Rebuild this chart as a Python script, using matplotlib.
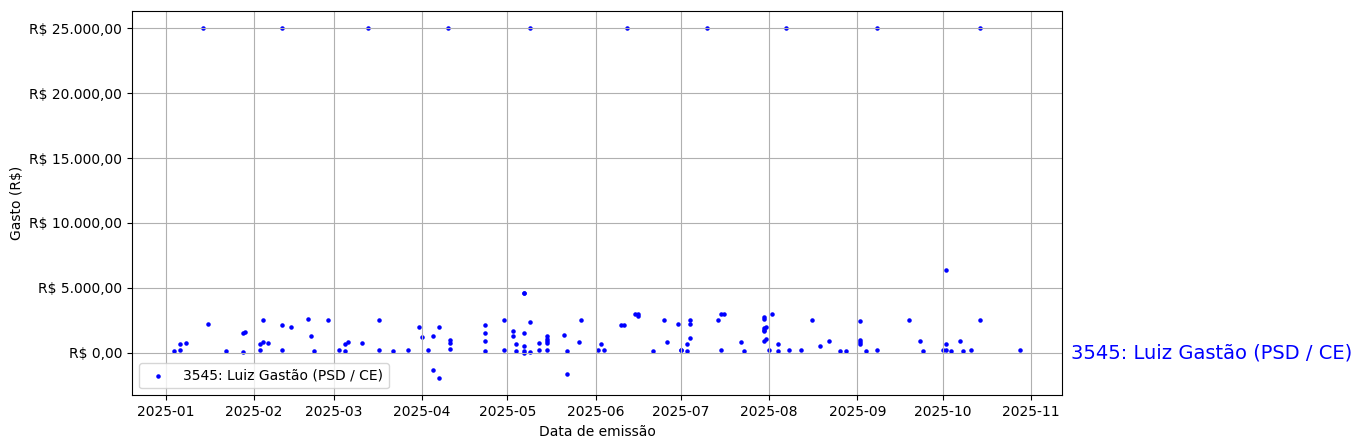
import matplotlib
matplotlib.use("Agg")
import matplotlib.pyplot as plt
import matplotlib.dates as mdates
import matplotlib.transforms as mtransforms
from matplotlib.ticker import FuncFormatter
import pandas as pd

deputado = "3545: Luiz Gastão (PSD / CE)"

datas = [
    "2025-01-04", "2025-01-06", "2025-01-06", "2025-01-08", "2025-01-14", "2025-01-16",
    "2025-01-22", "2025-01-28", "2025-01-28", "2025-01-29",
    "2025-02-03", "2025-02-03", "2025-02-04", "2025-02-04", "2025-02-06",
    "2025-02-11", "2025-02-11", "2025-02-11", "2025-02-14", "2025-02-20",
    "2025-02-21", "2025-02-22", "2025-02-27",
    "2025-03-03", "2025-03-05", "2025-03-05", "2025-03-06", "2025-03-11",
    "2025-03-13", "2025-03-17", "2025-03-17", "2025-03-22", "2025-03-27", "2025-03-31",
    "2025-04-01", "2025-04-03", "2025-04-05", "2025-04-05", "2025-04-07", "2025-04-07",
    "2025-04-10", "2025-04-11", "2025-04-11", "2025-04-11",
    "2025-04-23", "2025-04-23", "2025-04-23", "2025-04-23", "2025-04-30", "2025-04-30",
    "2025-05-03", "2025-05-03", "2025-05-04", "2025-05-04",
    "2025-05-07", "2025-05-07", "2025-05-07", "2025-05-07", "2025-05-07", "2025-05-07",
    "2025-05-09", "2025-05-09", "2025-05-09", "2025-05-12", "2025-05-12",
    "2025-05-15", "2025-05-15", "2025-05-15", "2025-05-15", "2025-05-15",
    "2025-05-21", "2025-05-22", "2025-05-22", "2025-05-26", "2025-05-27",
    "2025-06-02", "2025-06-03", "2025-06-04", "2025-06-10", "2025-06-11", "2025-06-12",
    "2025-06-15", "2025-06-16", "2025-06-16", "2025-06-21", "2025-06-25", "2025-06-26",
    "2025-06-30", "2025-07-01", "2025-07-01", "2025-07-03", "2025-07-03",
    "2025-07-04", "2025-07-04", "2025-07-04", "2025-07-10", "2025-07-14",
    "2025-07-15", "2025-07-15", "2025-07-16", "2025-07-22", "2025-07-23",
    "2025-07-30", "2025-07-30", "2025-07-30", "2025-07-30", "2025-07-30", "2025-07-30",
    "2025-07-31", "2025-07-31", "2025-08-01", "2025-08-02", "2025-08-04", "2025-08-04",
    "2025-08-07", "2025-08-08", "2025-08-12", "2025-08-16", "2025-08-19", "2025-08-22",
    "2025-08-26", "2025-08-28",
    "2025-09-02", "2025-09-02", "2025-09-02", "2025-09-02", "2025-09-04",
    "2025-09-08", "2025-09-08", "2025-09-19", "2025-09-23", "2025-09-24",
    "2025-10-01", "2025-10-02", "2025-10-02", "2025-10-02", "2025-10-04",
    "2025-10-07", "2025-10-08", "2025-10-11", "2025-10-14", "2025-10-14", "2025-10-28",
]

valores = [
    130, 200, 670, 770, 25000, 2230,
    130, 1540, 50, 1590,
    200, 670, 790, 2510, 770,
    200, 2130, 25000, 1970, 2590,
    1280, 130, 2510,
    200, 130, 670, 790, 770,
    25000, 2510, 200, 130, 200, 1970,
    1200, 200, 1280, -1330, 1970, -1950,
    25000, 750, 980, 280,
    130, 900, 1520, 2130, 200, 2510,
    1670, 1280, 670, 130,
    4590, 4620, 1520, 520, 130, 0,
    2360, 80, 25000, 750, 200,
    1280, 1050, 900, 750, 200,
    1360, -1640, 130, 820, 2510,
    200, 670, 200, 2130, 2130, 25000,
    2980, 2980, 2820, 130, 2510, 820,
    2210, 200, 200, 130, 670,
    1130, 2210, 2510, 25000, 2510,
    2980, 200, 2980, 820, 130,
    2750, 2590, 1900, 1750, 1670, 900,
    1970, 1050, 200, 2980, 670, 130,
    25000, 200, 200, 2510, 520, 900,
    130, 130,
    2440, 980, 820, 670, 130,
    200, 25000, 2510, 900, 130,
    200, 200, 6360, 670, 130,
    900, 130, 200, 2510, 25000, 200,
]

df = pd.DataFrame({"data": pd.to_datetime(datas), "valor": valores})


def reais(v, pos):
    s = f"{v:,.2f}".replace(",", "X").replace(".", ",").replace("X", ".")
    return f"R$ {s}"


fig = plt.figure(figsize=(13.61, 4.48), dpi=100)
ax = fig.add_axes([0.0970, 0.1176, 0.6833, 0.8578])

ax.scatter(df["data"], df["valor"], s=5, color="blue", label=deputado)

trans = mtransforms.blended_transform_factory(ax.transAxes, ax.transData)
ax.text(1.01, 0, deputado, color="blue", fontsize=14, va="center", ha="left",
        transform=trans)

ax.yaxis.set_major_formatter(FuncFormatter(reais))
ax.xaxis.set_major_locator(mdates.MonthLocator())
ax.xaxis.set_major_formatter(mdates.DateFormatter("%Y-%m"))
ax.set_xlabel("Data de emissão")
ax.set_ylabel("Gasto (R$)")
ax.grid(True)
ax.legend(loc="lower left")

fig.savefig("out.png", dpi=100)
